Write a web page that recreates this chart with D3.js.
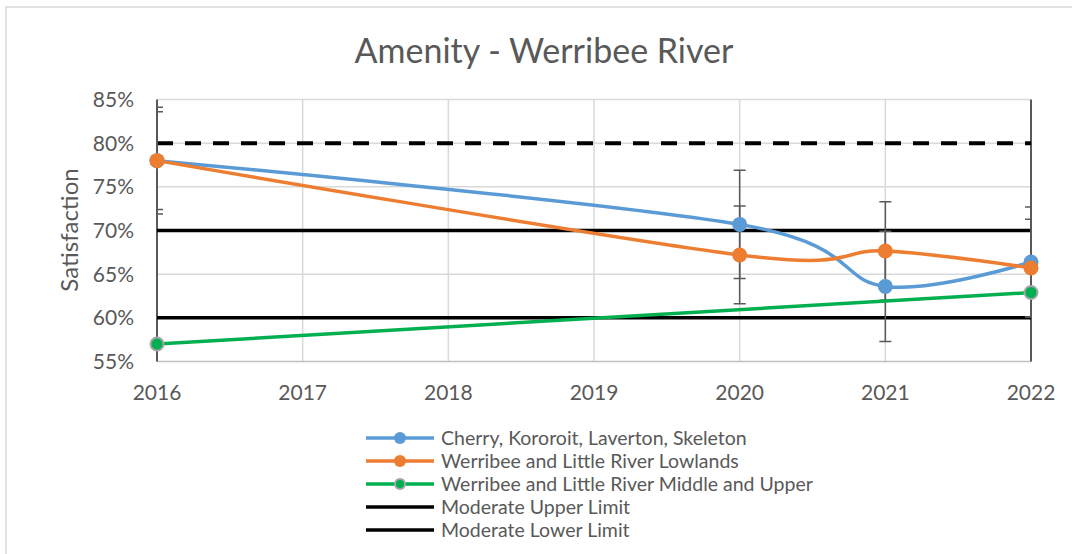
<!DOCTYPE html>
<meta charset="utf-8">
<head>
  <title>Amenity - Werribee River</title>
</head>
<style>
body { margin: 0; background: #fff; }
text { font-family: Lato, "Open Sans", sans-serif; fill: #595959; }
</style>
<body>
<svg width="1072" height="554"></svg>
<script src="https://cdnjs.cloudflare.com/ajax/libs/d3/7.8.5/d3.min.js"></script>
<script>

// values (percent)
var years = [2016, 2020, 2021, 2022];
var cherry = [78.0, 70.7, 63.6, 66.4];
var cherryErr = [6.1, 6.2, 6.3, 6.3];
var lowlands = [78.0, 67.2, 67.65, 65.7];
var lowlandsErr = [5.6, 5.6, 5.65, 5.6];
var middleYears = [2016, 2022];
var middle = [57.0, 62.9];
var upperLimit = 70, lowerLimit = 60, dashedLimit = 80;
var yTicks = [55, 60, 65, 70, 75, 80, 85];
var xTicks = [2016, 2017, 2018, 2019, 2020, 2021, 2022];
var legendNames = ["Cherry, Kororoit, Laverton, Skeleton",
                   "Werribee and Little River Lowlands",
                   "Werribee and Little River Middle and Upper",
                   "Moderate Upper Limit",
                   "Moderate Lower Limit"];

var svg = d3.select("svg");

// chart frame
svg.append("rect").attr("x", 6).attr("y", 7).attr("width", 1080).attr("height", 560)
    .attr("fill", "none").attr("stroke", "#d9d9d9").attr("stroke-width", 1.5);

var x = d3.scaleLinear().domain([2016, 2022]).range([157, 1031]);
var y = d3.scaleLinear().domain([55, 85]).range([361.5, 99.5]);

svg.append("text").attr("x", 544).attr("y", 63).attr("text-anchor", "middle")
    .style("font-size", "34px").text("Amenity - Werribee River");

// gridlines
svg.append("g").selectAll("line").data(yTicks.slice(1)).join("line")
    .attr("x1", x(2016)).attr("x2", x(2022))
    .attr("y1", d => y(d)).attr("y2", d => y(d))
    .attr("stroke", "#d9d9d9").attr("stroke-width", 1.5);
svg.append("g").selectAll("line").data(xTicks.slice(1, -1)).join("line")
    .attr("x1", d => x(d)).attr("x2", d => x(d))
    .attr("y1", y(85)).attr("y2", y(55))
    .attr("stroke", "#d9d9d9").attr("stroke-width", 1.5);

// axes lines
svg.append("line").attr("x1", x(2016)).attr("x2", x(2022)).attr("y1", y(55)).attr("y2", y(55))
    .attr("stroke", "#bfbfbf").attr("stroke-width", 1.5);
svg.append("line").attr("x1", x(2016)).attr("x2", x(2016)).attr("y1", y(85)).attr("y2", y(55))
    .attr("stroke", "#595959").attr("stroke-width", 2);
svg.append("line").attr("x1", x(2022)).attr("x2", x(2022)).attr("y1", y(85)).attr("y2", y(55))
    .attr("stroke", "#595959").attr("stroke-width", 2);

// tick labels
svg.append("g").selectAll("text").data(yTicks).join("text")
    .attr("x", 134).attr("y", d => y(d) + 7.5).attr("text-anchor", "end")
    .style("font-size", "21px").text(d => d + "%");
svg.append("g").selectAll("text").data(xTicks).join("text")
    .attr("x", d => x(d)).attr("y", 400).attr("text-anchor", "middle")
    .style("font-size", "21px").text(d => d);
svg.append("text").attr("transform", "translate(78,230) rotate(-90)")
    .attr("text-anchor", "middle").style("font-size", "24px").text("Satisfaction");

// limit lines
svg.append("line").attr("x1", x(2016)).attr("x2", x(2022))
    .attr("y1", y(dashedLimit)).attr("y2", y(dashedLimit))
    .attr("stroke", "#000").attr("stroke-width", 4).attr("stroke-dasharray", "16,12");
[upperLimit, lowerLimit].forEach(function(v) {
    svg.append("line").attr("x1", x(2016)).attr("x2", x(2022))
        .attr("y1", y(v)).attr("y2", y(v))
        .attr("stroke", "#000").attr("stroke-width", 3.5);
});

// error bars, clipped to the plot area like Excel does
svg.append("clipPath").attr("id", "plot").append("rect")
    .attr("x", x(2016)).attr("y", y(85)).attr("width", x(2022) - x(2016)).attr("height", y(55) - y(85));
var errG = svg.append("g").attr("clip-path", "url(#plot)");
function errorBars(vals, errs) {
    years.forEach(function(yr, i) {
        var lo = vals[i] - errs[i], hi = vals[i] + errs[i];
        errG.append("line").attr("x1", x(yr)).attr("x2", x(yr))
            .attr("y1", y(hi)).attr("y2", y(lo)).attr("stroke", "#595959").attr("stroke-width", 1.5);
        [lo, hi].forEach(function(v) {
            errG.append("line").attr("x1", x(yr) - 6).attr("x2", x(yr) + 6)
                .attr("y1", y(v)).attr("y2", y(v)).attr("stroke", "#595959").attr("stroke-width", 1.5);
        });
    });
}
errorBars(cherry, cherryErr);
errorBars(lowlands, lowlandsErr);

// series
var smooth = d3.line().x(d => x(d[0])).y(d => y(d[1])).curve(d3.curveCardinal.tension(0));
var straight = d3.line().x(d => x(d[0])).y(d => y(d[1]));

var middlePts = d3.zip(middleYears, middle);
svg.append("path").attr("d", straight(middlePts)).attr("fill", "none")
    .attr("stroke", "#00b050").attr("stroke-width", 3.5);

var cherryPts = d3.zip(years, cherry);
var lowPts = d3.zip(years, lowlands);
svg.append("path").attr("d", smooth(cherryPts)).attr("fill", "none")
    .attr("stroke", "#5b9bd5").attr("stroke-width", 3.5);
svg.append("path").attr("d", smooth(lowPts)).attr("fill", "none")
    .attr("stroke", "#ed7d31").attr("stroke-width", 3.5);

svg.append("g").selectAll("circle").data(cherryPts).join("circle")
    .attr("cx", d => x(d[0])).attr("cy", d => y(d[1])).attr("r", 7.5).attr("fill", "#5b9bd5");
svg.append("g").selectAll("circle").data(lowPts).join("circle")
    .attr("cx", d => x(d[0])).attr("cy", d => y(d[1])).attr("r", 7.5).attr("fill", "#ed7d31");
svg.append("g").selectAll("circle").data(middlePts).join("circle")
    .attr("cx", d => x(d[0])).attr("cy", d => y(d[1])).attr("r", 6.5)
    .attr("fill", "#00b050").attr("stroke", "#a5a5a5").attr("stroke-width", 2);

// legend
var legendColors = ["#5b9bd5", "#ed7d31", "#00b050", "#000", "#000"];
var leg = svg.append("g").selectAll("g").data(legendNames).join("g")
    .attr("transform", (d, i) => "translate(0," + (438 + i * 23) + ")");
leg.append("line").attr("x1", 366).attr("x2", 434)
    .attr("stroke", (d, i) => legendColors[i]).attr("stroke-width", 3.5);
leg.filter((d, i) => i < 3).append("circle").attr("cx", 400).attr("r", (d, i) => i == 2 ? 5 : 6)
    .attr("fill", (d, i) => legendColors[i])
    .attr("stroke", (d, i) => i == 2 ? "#a5a5a5" : "none").attr("stroke-width", 2);
leg.append("text").attr("x", 441).attr("y", 7).style("font-size", "19.5px").text(d => d);

</script>
</body>
</html>
